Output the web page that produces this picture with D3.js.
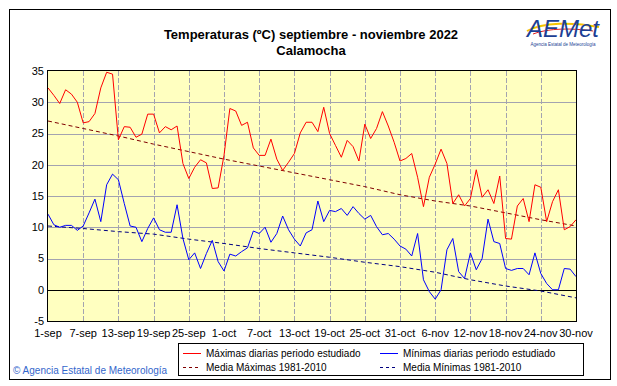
<!DOCTYPE html>
<html>
<head>
<meta charset="utf-8">
<script src="https://cdn.jsdelivr.net/npm/d3@7"></script>
<style>
  body { margin: 0; background: #ffffff; }
  text { font-family: "Liberation Sans", Arial, sans-serif; }
</style>
</head>
<body>
<div class="chart"></div>
<script>
// daily data, 1-sep to 30-nov 2022 (91 days)
var maxT = [32.3, 31.1, 29.8, 32.0, 31.3, 30.0, 26.7, 26.9, 28.2, 32.3,
  34.8, 34.5, 24.0, 26.1, 26.0, 24.4, 24.9, 28.1, 28.1, 25.1,
  26.1, 25.6, 26.2, 20.2, 17.8, 19.6, 20.8, 20.3, 16.2, 16.3,
  21.5, 29.0, 28.6, 26.3, 26.8, 22.7, 21.5, 21.5, 24.1, 20.9,
  19.1, 20.4, 21.8, 25.1, 26.8, 26.8, 25.3, 29.2, 25.0, 23.1,
  21.2, 23.9, 22.9, 20.6, 26.5, 24.2, 25.8, 28.5, 26.2, 23.6,
  20.6, 21.0, 21.8, 18.0, 13.3, 18.0, 20.1, 22.5, 20.2, 13.8,
  15.2, 13.4, 14.6, 19.2, 14.8, 16.0, 13.8, 18.2, 8.2, 8.1,
  13.4, 14.6, 10.9, 16.8, 16.4, 10.9, 14.1, 16.0, 9.6, 10.1,
  11.2];

var minT = [12.1, 10.4, 10.0, 10.3, 10.3, 9.5, 10.2, 12.3, 14.5, 10.9,
  16.8, 18.5, 17.6, 13.8, 10.2, 10.0, 7.7, 9.8, 11.5, 9.6,
  9.2, 9.2, 13.6, 8.2, 4.8, 5.9, 3.4, 5.8, 7.9, 4.5,
  3.0, 5.7, 5.4, 6.1, 6.7, 9.4, 9.0, 10.0, 7.6, 9.0,
  11.8, 9.6, 8.1, 7.0, 9.1, 9.6, 14.2, 10.9, 12.7, 12.5,
  13.0, 11.9, 13.3, 12.2, 11.3, 11.9, 10.1, 8.8, 9.0, 8.1,
  7.0, 6.5, 5.4, 9.0, 1.6, -0.3, -1.5, 0.0, 6.4, 8.2,
  2.9, 1.8, 5.9, 3.2, 5.0, 11.3, 7.7, 7.4, 3.4, 3.1,
  3.4, 3.4, 2.4, 5.9, 2.6, 1.0, 0.0, 0.0, 3.4, 3.3,
  2.1];

// 1981-2010 means, read at the tick days
var meanDays = [0, 6, 12, 18, 24, 30, 36, 42, 48, 54, 60, 66, 72, 78, 84, 90];
var meanMax = [27.0, 25.8, 24.6, 23.3, 22.1, 20.9, 19.8, 18.7, 17.6, 16.5, 15.2, 14.2, 13.4, 12.3, 11.2, 10.2];
var meanMin = [10.2, 9.8, 9.3, 8.9, 8.1, 7.4, 6.6, 5.9, 5.2, 4.4, 3.7, 2.8, 1.6, 0.6, -0.2, -1.3];

var tickLabels = ["1-sep", "7-sep", "13-sep", "19-sep", "25-sep", "1-oct", "7-oct", "13-oct",
  "19-oct", "25-oct", "31-oct", "6-nov", "12-nov", "18-nov", "24-nov", "30-nov"];
var yTicks = [-5, 0, 5, 10, 15, 20, 25, 30, 35];

var legendNames = ["Máximas diarias periodo estudiado", "Mínimas diarias periodo estudiado",
  "Media Máximas 1981-2010", "Media Mínimas 1981-2010"];

var svgWidth = 617;
var svgHeight = 386;

var margin = { top: 71, left: 48 };
var width = 528;
var height = 250;

var svg = d3.select(".chart")
  .append("svg")
  .attr("width", svgWidth)
  .attr("height", svgHeight);

// outer frame
svg.append("rect")
  .attr("x", 9.5).attr("y", 9.5)
  .attr("width", 601).attr("height", 370)
  .attr("fill", "#ffffff")
  .attr("stroke", "#000000");

// title
svg.append("text")
  .attr("x", 311).attr("y", 39)
  .attr("text-anchor", "middle")
  .attr("font-size", "13px")
  .attr("font-weight", "bold")
  .text("Temperaturas (ºC) septiembre - noviembre 2022");
svg.append("text")
  .attr("x", 311).attr("y", 55)
  .attr("text-anchor", "middle")
  .attr("font-size", "13px")
  .attr("font-weight", "bold")
  .text("Calamocha");

// logo
var logo = svg.append("g").attr("transform", "translate(563,0)");
logo.append("path")
  .attr("d", "M-36,31 C-20,22 10,22 36,27")
  .attr("fill", "none").attr("stroke", "#f5c400").attr("stroke-width", 2);
logo.append("path")
  .attr("d", "M-30,34 C-15,28 10,28 30,31")
  .attr("fill", "none").attr("stroke", "#e02020").attr("stroke-width", 1);
logo.append("text")
  .attr("x", 0).attr("y", 37)
  .attr("text-anchor", "middle")
  .attr("font-family", "'DejaVu Serif', serif")
  .attr("font-style", "italic")
  .attr("font-size", "24px")
  .attr("fill", "#1c3f94")
  .text("AEMet");
logo.append("text")
  .attr("x", 0).attr("y", 46)
  .attr("text-anchor", "middle")
  .attr("font-size", "4.5px")
  .attr("fill", "#1c3f94")
  .text("Agencia Estatal de Meteorología");

var chart = svg.append("g")
  .attr("transform", "translate(" + margin.left + "," + margin.top + ")");

var xScale = d3.scaleLinear().domain([0, 90]).range([0, width]);
var yScale = d3.scaleLinear().domain([-5, 35]).range([height, 0]);

// plot background
chart.append("rect")
  .attr("width", width).attr("height", height)
  .attr("fill", "#ffffc0");

// grid
chart.selectAll(".hgrid")
  .data(yTicks.filter(function(d) { return d != 0 && d != 35 && d != -5; }))
  .enter().append("line")
  .attr("x1", 0).attr("x2", width)
  .attr("y1", function(d) { return Math.round(yScale(d)) + 0.5; })
  .attr("y2", function(d) { return Math.round(yScale(d)) + 0.5; })
  .attr("stroke", "#a3a3b0");

chart.selectAll(".vgrid")
  .data(d3.range(1, 15))
  .enter().append("line")
  .attr("x1", function(d) { return Math.round(xScale(d * 6)) + 0.5; })
  .attr("x2", function(d) { return Math.round(xScale(d * 6)) + 0.5; })
  .attr("y1", 0).attr("y2", height)
  .attr("stroke", "#a3a3b0")
  .attr("stroke-dasharray", "5,2");

// zero line
chart.append("line")
  .attr("x1", 0).attr("x2", width)
  .attr("y1", Math.round(yScale(0)) + 0.5).attr("y2", Math.round(yScale(0)) + 0.5)
  .attr("stroke", "#000000");

var line = d3.line()
  .x(function(d, i) { return xScale(i); })
  .y(function(d) { return yScale(d); });

var meanLine = d3.line()
  .x(function(d, i) { return xScale(meanDays[i]); })
  .y(function(d) { return yScale(d); });

chart.append("path")
  .attr("d", meanLine(meanMax))
  .attr("fill", "none").attr("stroke", "#800000")
  .attr("stroke-dasharray", "4,3");

chart.append("path")
  .attr("d", meanLine(meanMin))
  .attr("fill", "none").attr("stroke", "#000080")
  .attr("stroke-dasharray", "4,3");

chart.append("path")
  .attr("d", line(maxT))
  .attr("fill", "none").attr("stroke", "#ff0000");

chart.append("path")
  .attr("d", line(minT))
  .attr("fill", "none").attr("stroke", "#0000ff");

// plot border
chart.append("rect")
  .attr("x", -0.5).attr("y", -0.5)
  .attr("width", width + 1).attr("height", height + 1)
  .attr("fill", "none").attr("stroke", "#000000");

// y labels
chart.selectAll(".ylab")
  .data(yTicks)
  .enter().append("text")
  .attr("x", -4)
  .attr("y", function(d) { return yScale(d); })
  .attr("dy", "0.35em")
  .attr("text-anchor", "end")
  .attr("font-size", "11px")
  .text(function(d) { return d; });

// x labels
chart.selectAll(".xlab")
  .data(tickLabels)
  .enter().append("text")
  .attr("x", function(d, i) { return xScale(i * 6); })
  .attr("y", height + 16)
  .attr("text-anchor", "middle")
  .attr("font-size", "11px")
  .text(function(d) { return d; });

// legend
var legend = svg.append("g");
legend.append("rect")
  .attr("x", 178.5).attr("y", 343.5)
  .attr("width", 405).attr("height", 32)
  .attr("fill", "#ffffff").attr("stroke", "#000000");

var legendColors = ["#ff0000", "#0000ff", "#800000", "#000080"];
var legendDash = [null, null, "3,3", "3,3"];

legend.selectAll(".item")
  .data(legendNames)
  .enter().append("g")
  .attr("transform", function(d, i) {
    return "translate(" + (i % 2 == 0 ? 183 : 380) + "," + (i < 2 ? 353 : 367) + ")";
  })
  .each(function(d, i) {
    var g = d3.select(this);
    g.append("line")
      .attr("x1", 0).attr("x2", 18).attr("y1", 0.5).attr("y2", 0.5)
      .attr("stroke", legendColors[i])
      .attr("stroke-dasharray", legendDash[i]);
    g.append("text")
      .attr("x", 23).attr("y", 0)
      .attr("dy", "0.35em")
      .attr("font-size", "10px")
      .text(d);
  });

svg.append("text")
  .attr("x", 13).attr("y", 374)
  .attr("font-size", "10px")
  .attr("fill", "#3366cc")
  .text("© Agencia Estatal de Meteorología");
</script>
</body>
</html>
